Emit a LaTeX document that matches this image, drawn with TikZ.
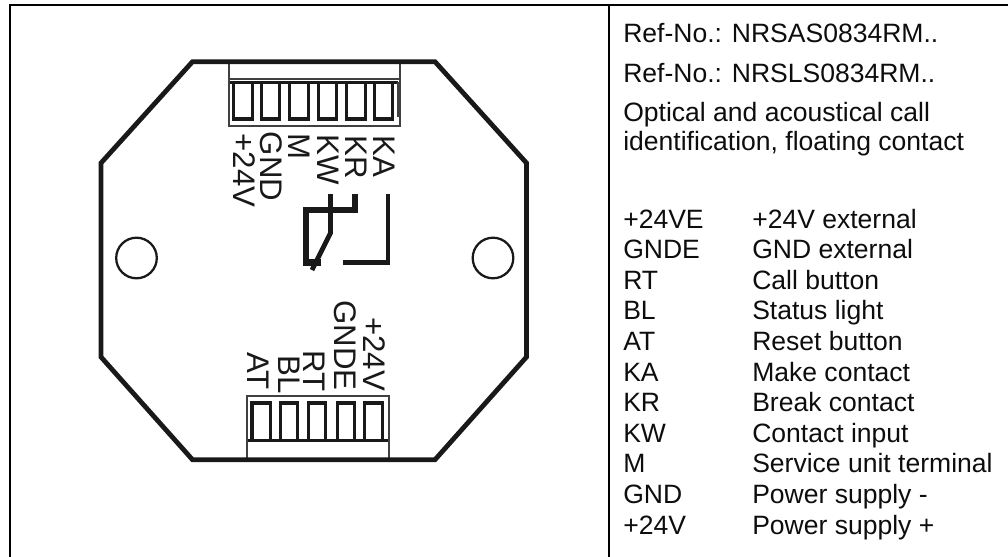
\documentclass[tikz,border=0pt]{standalone}
\usepackage{fontspec}
\setmainfont{Liberation Sans}
\tikzset{
  x=0.75pt,y=-0.75pt,
  frameline/.style={draw=black,line width=1.9pt},
  plate/.style={draw=black!90,line width=3.6pt,miter limit=10},
  thinbox/.style={draw=black!75,line width=1pt},
  bar/.style={draw=black!90,line width=2.9pt},
  terminal/.style={draw=black!90,line width=2.3pt},
  relay/.style={draw=black!90,line width=4.7pt,miter limit=10},
  relaythin/.style={draw=black!90,line width=3.6pt,miter limit=10},
  hole/.style={draw=black!90,line width=1.7pt},
  pinlabel/.style={inner sep=0pt,anchor=base west,font=\fontsize{23.4pt}{24pt}\selectfont,text=black!90},
  toplabel/.style={pinlabel,rotate=-90},
  info/.style={inner sep=0pt,anchor=base west,font=\fontsize{19.9pt}{22pt}\selectfont,text=black!95}
}
\newcommand{\termrect}[4]{\draw[terminal] (#1,#3) rectangle (#2,#4);}
\begin{document}
\begin{tikzpicture}
\useasboundingbox (0,0) rectangle (1008,557);
% frame
\draw[frameline] (1008,5) -- (10,5) -- (10,557);
\draw[frameline] (609,5) -- (609,557);
% top connector
\draw[thinbox] (229,61) -- (229,126) -- (400,126) -- (400,61);
\draw[thinbox] (229,79) -- (400,79);
\termrect{233.7}{252.3}{82.5}{119}
\termrect{261.7}{279.3}{82.5}{119}
\termrect{289.7}{308.3}{82.5}{119}
\termrect{318.7}{336.3}{82.5}{119}
\termrect{346.7}{365.3}{82.5}{119}
\termrect{374.7}{392.3}{82.5}{119}
\draw[bar] (230,82.5) -- (398,82.5);
\draw[thinbox] (398,82) -- (398,117);
% bottom connector
\draw[thinbox] (247,460) -- (247,396) -- (389,396) -- (389,460);
\termrect{252}{270.3}{403}{440.5}
\termrect{280.3}{297.7}{403}{440.5}
\termrect{308.3}{325.7}{403}{440.5}
\termrect{337.3}{354.7}{403}{440.5}
\termrect{364.8}{382.7}{403}{440.5}
\draw[bar] (248,440.5) -- (388,440.5);
% housing
\draw[plate] (192.5,61.7) -- (435,61.7) -- (526.5,163) -- (526.5,357) -- (435,459.7) -- (192.5,459.7) -- (101,357) -- (101,163) -- cycle;
% holes
\draw[hole] (136.5,258) circle[radius=20.3];
\draw[hole] (493,258) circle[radius=20.3];
% relay
\draw[relay] (321,262.5) -- (305.7,262.5) -- (305.7,210) -- (354.7,210) -- (354.7,194);
\draw[relaythin] (330.5,194) -- (330.5,233) -- (312,270);
\draw[relaythin] (388,194) -- (388,262.5) -- (343,262.5);
% top pin labels
\node[toplabel] (lkap) at (373,135.5) {KA};
\node[toplabel] (lkrp) at (345.5,135) {KR};
\node[toplabel] (lkwp) at (317,134.5) {KW};
\node[toplabel] (lmp) at (288,133) {M};
\node[toplabel] (lgndp) at (260,131.5) {GND};
\node[toplabel] (lvp) at (233,133.5) {+24V};
% bottom pin labels
\node[toplabel] (lat) at (247,352) {AT};
\node[toplabel] (lbl) at (278,355) {BL};
\node[toplabel] (lrt) at (303,350) {RT};
\node[toplabel] (lgnde) at (334,300) {GNDE};
\node[toplabel] (lve) at (363,317) {+24V};
% info
\node[info] (ref1) at (623,42) {Ref-No.: NRSAS0834RM..};
\node[info] (ref2) at (623,82) {Ref-No.: NRSLS0834RM..};
\node[info] (d1) at (623,121) {Optical and acoustical call};
\node[info] (d2) at (623,150) {identification, floating contact};
\node[info] (a1) at (623,228) {+24VE};   \node[info] (b1) at (752,228) {+24V external};
\node[info] (a2) at (623,258.6) {GNDE};  \node[info] (b2) at (752,258.6) {GND external};
\node[info] (a3) at (623,289.2) {RT};    \node[info] (b3) at (752,289.2) {Call button};
\node[info] (a4) at (623,319.8) {BL};    \node[info] (b4) at (752,319.8) {Status light};
\node[info] (a5) at (623,350.4) {AT};    \node[info] (b5) at (752,350.4) {Reset button};
\node[info] (a6) at (623,381) {KA};      \node[info] (b6) at (752,381) {Make contact};
\node[info] (a7) at (623,411.6) {KR};    \node[info] (b7) at (752,411.6) {Break contact};
\node[info] (a8) at (623,442.2) {KW};    \node[info] (b8) at (752,442.2) {Contact input};
\node[info] (a9) at (623,472.8) {M};     \node[info] (b9) at (752,472.8) {Service unit terminal};
\node[info] (a10) at (623,503.4) {GND};  \node[info] (b10) at (752,503.4) {Power supply -};
\node[info] (a11) at (623,534) {+24V};   \node[info] (b11) at (752,534) {Power supply +};
\end{tikzpicture}
\end{document}
